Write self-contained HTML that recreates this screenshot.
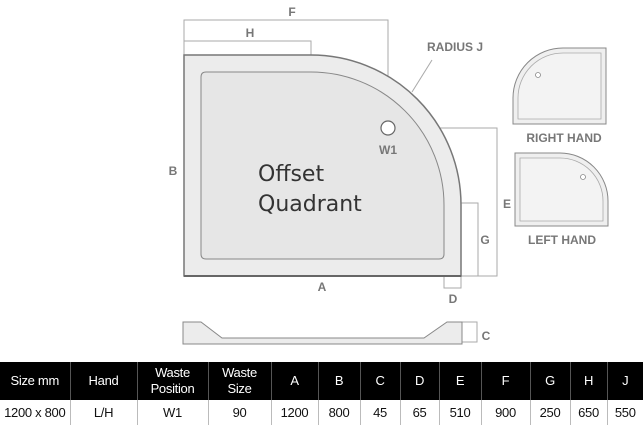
<!DOCTYPE html>
<html><head><meta charset="utf-8"><style>
html,body{margin:0;padding:0;background:#fff;}
body{width:643px;height:425px;position:relative;overflow:hidden;font-family:"Liberation Sans",sans-serif;}
svg{position:absolute;left:0;top:0;}
table{position:absolute;left:0;top:362px;width:643px;border-collapse:collapse;table-layout:fixed;font-family:"Liberation Sans",sans-serif;}
th{background:#000;color:#fff;font-weight:normal;font-size:13px;height:38px;line-height:16px;border-left:1px solid #555;padding:0;white-space:nowrap;letter-spacing:-0.3px;}
td{font-size:13px;height:25px;text-align:center;border-left:1px solid #bbb;padding:0;color:#111;white-space:nowrap;letter-spacing:-0.3px;}
th:first-child,td:first-child{border-left:none;}
</style></head><body>
<svg width="643" height="425" viewBox="0 0 643 425">
<g fill="none" stroke="#aaa" stroke-width="1">
<polyline points="184,55 184,20 388,20 388,121"/>
<polyline points="184,55 184,41 311,41 311,55"/>
<polyline points="395,128 497,128 497,276 461,276"/>
<polyline points="461,203 478,203 478,276"/>
<polyline points="444,259 444,288 461,288 461,276"/>
<line x1="432" y1="60" x2="412" y2="92"/>
</g>
<path d="M184,55 H311 A150,150 0 0 1 461,205 V276 H184 Z" fill="#ececec" stroke="#777" stroke-width="1.5"/>
<path d="M206,72 H311 A133,133 0 0 1 444,205 V254 Q444,259 439,259 H206 Q201,259 201,254 V77 Q201,72 206,72 Z" fill="#e6e6e6" stroke="#888" stroke-width="1"/>
<line x1="184" y1="276" x2="461" y2="276" stroke="#666" stroke-width="2"/>
<circle cx="388" cy="128" r="7" fill="#fff" stroke="#666" stroke-width="1.2"/>
<g font-family="Liberation Sans,sans-serif" font-weight="bold" font-size="12" fill="#777" text-anchor="middle">
<text x="292" y="16">F</text>
<text x="250" y="37">H</text>
<text x="455" y="51">RADIUS J</text>
<text x="388" y="154">W1</text>
<text x="173" y="175">B</text>
<text x="507" y="208">E</text>
<text x="485" y="244">G</text>
<text x="322" y="291">A</text>
<text x="453" y="303">D</text>
<text x="486" y="340">C</text>
<text x="564" y="142">RIGHT HAND</text>
<text x="562" y="244">LEFT HAND</text>
</g>
<text x="258" y="181" font-family="DejaVu Sans,sans-serif" font-size="22" fill="#333">Offset</text>
<text x="258" y="211" font-family="DejaVu Sans,sans-serif" font-size="22" fill="#333">Quadrant</text>
<path d="M606,48 V124 H513 V98 A50,50 0 0 1 563,48 Z" fill="#efefef" stroke="#888"/>
<path d="M601,53 V119 H518 V98 A45,45 0 0 1 563,53 Z" fill="#f3f3f3" stroke="#aaa" stroke-width="0.8"/>
<circle cx="538" cy="75" r="2.5" fill="#fff" stroke="#888" stroke-width="0.8"/>
<path d="M515,153 H560 A48,48 0 0 1 608,201 V226 H515 Z" fill="#efefef" stroke="#888"/>
<path d="M520,158 H560 A43,43 0 0 1 603,201 V221 H520 Z" fill="#f3f3f3" stroke="#aaa" stroke-width="0.8"/>
<circle cx="583" cy="177" r="2.5" fill="#fff" stroke="#888" stroke-width="0.8"/>
<polyline points="462,322 477,322 477,342 462,342" fill="none" stroke="#aaa"/>
<path d="M183,322 H201 L222,338 H424 L447,322 H462 V344 H183 Z" fill="#ececec" stroke="#888"/>
</svg>
<table>
<colgroup><col style="width:70px"><col style="width:67px"><col style="width:71px"><col style="width:63px"><col style="width:47px"><col style="width:42px"><col style="width:40px"><col style="width:39px"><col style="width:42px"><col style="width:49px"><col style="width:40px"><col style="width:37px"><col style="width:36px"></colgroup>
<tr><th>Size mm</th><th>Hand</th><th>Waste<br>Position</th><th>Waste<br>Size</th><th>A</th><th>B</th><th>C</th><th>D</th><th>E</th><th>F</th><th>G</th><th>H</th><th>J</th></tr>
<tr><td>1200 x 800</td><td>L/H</td><td>W1</td><td>90</td><td>1200</td><td>800</td><td>45</td><td>65</td><td>510</td><td>900</td><td>250</td><td>650</td><td>550</td></tr>
</table>
</body></html>
